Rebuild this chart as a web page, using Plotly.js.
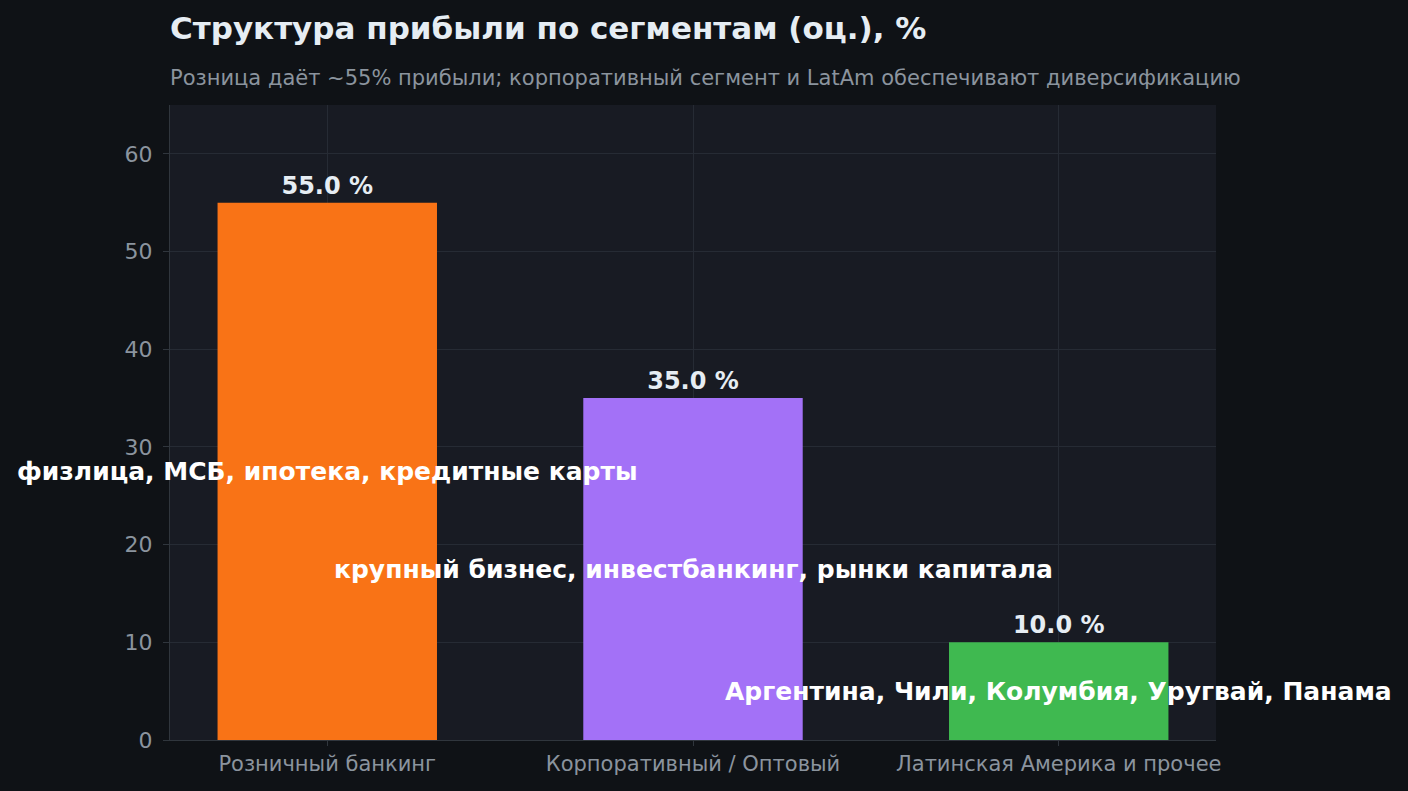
<!DOCTYPE html>
<html>
<head>
<meta charset="utf-8">
<script src="https://cdn.plot.ly/plotly-3.0.1.min.js"></script>
<style>
  html, body { margin: 0; padding: 0; background: #0f1216; }
  #chart { width: 1408px; height: 791px; }
</style>
</head>
<body>
<div id="chart"></div>
<script>
// сегменты и их доля в прибыли (оценка), %
const segments = ["Розничный банкинг", "Корпоративный / Оптовый", "Латинская Америка и прочее"];
const shares   = [55.0, 35.0, 10.0];
const notes    = [
  "физлица, МСБ, ипотека, кредитные карты",
  "крупный бизнес, инвестбанкинг, рынки капитала",
  "Аргентина, Чили, Колумбия, Уругвай, Панама"
];
const colors   = ["#f97316", "#a371f7", "#3fb950"];

const FONT = "DejaVu Sans, sans-serif";

const trace = {
  type: "bar",
  x: segments,
  y: shares,
  width: 0.6,
  marker: { color: colors, line: { width: 0 } },
  text: shares.map(v => v.toFixed(1) + " %"),
  textposition: "outside",
  textfont: { family: FONT, size: 24, color: "#e6edf3", weight: "bold" },
  cliponaxis: false,
  hoverinfo: "x+y"
};

// подписи внутри столбцов — на половине высоты
const annotations = segments.map((s, i) => ({
  x: s, y: shares[i] / 2, xref: "x", yref: "y",
  text: "<b>" + notes[i] + "</b>",
  showarrow: false,
  font: { family: FONT, size: 25, color: "#ffffff" }
}));

// подзаголовок
annotations.push({
  xref: "paper", yref: "paper", x: 0, y: 1, yshift: 13, xshift: -2,
  xanchor: "left", yanchor: "bottom",
  text: "Розница даёт ~55% прибыли; корпоративный сегмент и LatAm обеспечивают диверсификацию",
  showarrow: false,
  font: { family: FONT, size: 21, color: "#8b949e" }
});

const layout = {
  width: 1408, height: 791,
  paper_bgcolor: "#0f1216",
  plot_bgcolor: "#181b23",
  margin: { l: 170, r: 192, t: 105, b: 51 },
  font: { family: FONT, color: "#8b949e" },
  title: {
    text: "<b>Структура прибыли по сегментам (оц.), %</b>",
    x: 0, xanchor: "left", xref: "paper",
    y: 0.9646, yanchor: "middle",
    font: { family: FONT, size: 31, color: "#e6edf3" }
  },
  xaxis: {
    range: [-0.43, 2.43],
    showgrid: true, gridcolor: "#262b34",
    showline: true, linecolor: "#30363d",
    ticks: "outside", tickcolor: "#30363d", ticklen: 5,
    tickfont: { family: FONT, size: 21, color: "#8b949e" }
  },
  yaxis: {
    range: [0, 65],
    dtick: 10,
    showgrid: true, gridcolor: "#262b34",
    zeroline: false,
    showline: true, linecolor: "#30363d",
    ticks: "outside", tickcolor: "#30363d", ticklen: 6,
    ticklabelstandoff: 6,
    tickfont: { family: FONT, size: 22, color: "#8b949e" }
  },
  annotations: annotations,
  showlegend: false
};

Plotly.newPlot("chart", [trace], layout, { displayModeBar: false, staticPlot: true });
</script>
</body>
</html>
